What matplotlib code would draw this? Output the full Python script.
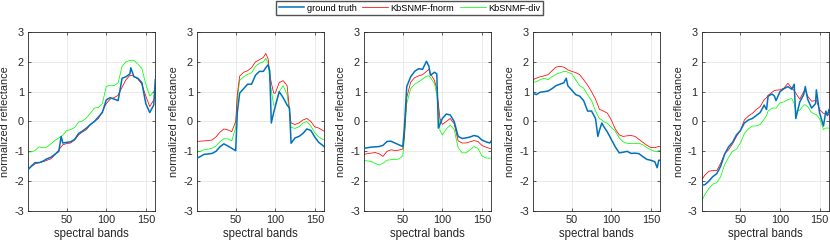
import matplotlib
matplotlib.use('Agg')
import matplotlib.pyplot as plt

plt.rcParams['font.family'] = ['Liberation Sans', 'DejaVu Sans']
plt.rcParams['axes.unicode_minus'] = False

# ---- panel 1 ----
bands1 = [1, 5, 10, 15, 20, 25, 30, 35, 40, 43, 45, 50, 55, 60, 65, 70, 75, 80, 85, 90,
          95, 100, 105, 110, 115, 120, 125, 130, 131, 135, 140, 145, 150, 155, 160, 162]
gt1 = [-1.62, -1.5, -1.38, -1.38, -1.33, -1.25, -1.2, -1.1, -1.0, -0.5, -0.72, -0.7, -0.68, -0.6,
       -0.4, -0.32, -0.22, -0.1, 0.0, 0.15, 0.3, 0.72, 0.8, 0.75, 0.7, 1.45, 1.5, 1.6, 1.8, 1.5,
       1.45, 1.3, 0.6, 0.3, 0.55, 1.4]
fn1 = [-1.62, -1.52, -1.42, -1.38, -1.35, -1.3, -1.25, -1.12, -0.95, -0.85, -0.78, -0.74, -0.72,
       -0.62, -0.45, -0.35, -0.27, -0.1, 0.0, 0.1, 0.33, 0.6, 0.75, 0.8, 0.88, 1.15, 1.4, 1.55,
       1.55, 1.52, 1.42, 1.25, 0.85, 0.5, 0.72, 0.82]
dv1 = [-1.02, -1.02, -0.97, -0.85, -0.88, -0.86, -0.75, -0.64, -0.55, -0.5, -0.46, -0.3, -0.27,
       -0.2, -0.02, 0.02, 0.12, 0.28, 0.45, 0.47, 0.6, 1.17, 1.22, 1.2, 1.3, 1.85, 2.0, 2.05,
       2.05, 2.05, 1.92, 1.78, 1.25, 0.85, 1.0, 1.08]

# ---- panel 2 ----
bands2 = [1, 5, 10, 15, 20, 25, 30, 35, 40, 45, 50, 52, 55, 60, 65, 70, 75, 80, 85, 88, 91,
          93, 95, 98, 100, 105, 110, 115, 118, 120, 125, 130, 135, 140, 145, 150, 155, 160, 162]
gt2 = [-1.23, -1.18, -1.1, -1.09, -1.07, -1.0, -0.85, -0.75, -0.82, -0.9, -0.98, 0.3, 0.95, 1.1,
       1.25, 1.25, 1.55, 1.68, 1.68, 1.8, 1.9, 1.7, -0.05, 0.3, 0.5, 1.0, 0.8, 0.55, 0.45, -0.73,
       -0.55, -0.5, -0.4, -0.25, -0.3, -0.52, -0.7, -0.8, -0.85]
fn2 = [-0.67, -0.66, -0.65, -0.64, -0.62, -0.52, -0.36, -0.25, -0.28, -0.34, 0.0, 0.9, 1.52,
       1.65, 1.7, 1.8, 2.0, 2.07, 2.15, 2.28, 2.1, 1.6, 1.3, 0.95, 0.95, 1.3, 1.37, 1.2, 0.4,
       -0.05, -0.1, -0.05, 0.05, 0.1, 0.0, -0.18, -0.22, -0.3, -0.33]
dv2 = [-1.03, -1.0, -0.95, -0.93, -0.9, -0.82, -0.68, -0.58, -0.58, -0.65, -0.2, 0.75, 1.38,
       1.5, 1.58, 1.63, 1.85, 1.95, 2.0, 2.12, 1.95, 1.4, 1.05, 0.55, 0.55, 1.0, 1.2, 0.9, 0.3,
       -0.2, -0.23, -0.18, -0.05, 0.0, -0.15, -0.38, -0.52, -0.6, -0.62]

# ---- panel 3 ----
bands3 = [1, 5, 10, 15, 20, 25, 30, 35, 40, 45, 50, 52, 55, 60, 65, 70, 75, 80, 83, 85, 90,
          93, 95, 97, 100, 105, 110, 115, 120, 125, 130, 135, 140, 145, 150, 155, 160, 162]
gt3 = [-0.9, -0.88, -0.86, -0.85, -0.84, -0.8, -0.67, -0.66, -0.72, -0.78, -0.84, -0.2, 1.17,
       1.5, 1.68, 1.77, 1.75, 2.02, 1.85, 1.55, 1.65, 1.6, -0.22, -0.1, 0.1, 0.25, 0.22, 0.0,
       -0.5, -0.57, -0.55, -0.52, -0.47, -0.5, -0.62, -0.68, -0.72, -0.65]
fn3 = [-1.1, -1.08, -1.06, -1.04, -1.08, -1.17, -1.0, -0.95, -0.97, -0.96, -0.92, -0.5, 0.8,
       1.32, 1.47, 1.53, 1.57, 1.68, 1.75, 1.6, 1.38, 1.1, 0.6, 0.1, -0.1, 0.0, 0.1, -0.08,
       -0.65, -0.72, -0.72, -0.68, -0.64, -0.67, -0.8, -0.86, -0.9, -0.9]
dv3 = [-1.31, -1.32, -1.34, -1.4, -1.46, -1.4, -1.3, -1.28, -1.27, -1.26, -1.15, -0.6, 0.6,
       1.1, 1.25, 1.33, 1.42, 1.52, 1.53, 1.47, 1.28, 0.9, 0.5, -0.3, -0.45, -0.25, -0.12,
       -0.27, -0.88, -1.05, -1.05, -0.95, -0.84, -0.9, -1.15, -1.22, -1.23, -1.22]

# ---- panel 4 ----
bands4 = [1, 5, 10, 15, 20, 25, 30, 35, 40, 43, 45, 50, 55, 60, 65, 70, 75, 80, 83, 85, 88,
          90, 95, 100, 105, 110, 115, 120, 125, 130, 135, 140, 145, 150, 155, 158, 160, 162]
gt4 = [0.95, 0.9, 0.98, 1.0, 1.02, 1.1, 1.2, 1.25, 1.3, 1.45, 1.2, 1.05, 0.9, 0.85, 0.7, 0.35,
       0.35, 0.1, -0.5, -0.3, -0.05, -0.15, -0.35, -0.6, -0.85, -1.05, -1.03, -1.0, -1.07,
       -1.06, -1.08, -1.18, -1.27, -1.3, -1.35, -1.55, -1.3, -1.3]
fn4 = [1.4, 1.45, 1.5, 1.53, 1.57, 1.7, 1.82, 1.85, 1.82, 1.77, 1.73, 1.68, 1.64, 1.57, 1.4,
       1.22, 1.0, 0.75, 0.55, 0.4, 0.38, 0.35, 0.28, 0.05, -0.25, -0.45, -0.5, -0.48, -0.47,
       -0.5, -0.6, -0.7, -0.8, -0.87, -0.88, -0.85, -0.84, -0.83]
dv4 = [1.31, 1.33, 1.4, 1.45, 1.4, 1.5, 1.58, 1.63, 1.68, 1.68, 1.65, 1.6, 1.4, 1.2, 1.12, 0.9,
       0.7, 0.35, 0.2, 0.1, 0.05, 0.0, -0.06, -0.2, -0.32, -0.55, -0.68, -0.73, -0.74, -0.74,
       -0.73, -0.78, -0.88, -0.95, -1.0, -1.0, -0.98, -0.97]

# ---- panel 5 ----
bands5 = [1, 5, 10, 15, 20, 25, 30, 35, 40, 45, 50, 55, 60, 65, 70, 75, 80, 83, 85, 90, 93,
          95, 100, 105, 110, 115, 118, 120, 125, 130, 132, 135, 140, 145, 146, 150, 155, 158,
          160, 162]
gt5 = [-2.13, -2.12, -2.0, -1.85, -1.75, -1.5, -1.1, -0.85, -0.7, -0.45, -0.3, -0.05, 0.05,
       0.1, 0.2, 0.3, 0.55, 0.4, 0.85, 0.92, 0.85, 0.7, 1.0, 1.1, 1.17, 1.08, 1.25, 0.1, 0.65,
       0.9, 1.17, 0.75, 0.45, 0.6, 1.06, 0.3, -0.15, 0.35, 0.2, 0.4]
fn5 = [-1.96, -1.8, -1.67, -1.64, -1.65, -1.4, -1.08, -0.95, -0.75, -0.5, -0.3, 0.05, 0.18,
       0.27, 0.4, 0.5, 0.73, 0.8, 0.88, 0.98, 1.04, 1.05, 1.06, 1.12, 1.28, 1.12, 1.03, 0.95,
       0.75, 1.0, 1.05, 0.85, 0.68, 0.7, 0.72, 0.4, 0.27, 0.25, 0.23, 0.22]
dv5 = [-2.67, -2.45, -2.25, -2.1, -2.05, -1.85, -1.45, -1.2, -1.0, -0.93, -0.72, -0.4, -0.25,
       -0.15, -0.15, -0.1, 0.08, 0.2, 0.35, 0.45, 0.45, 0.45, 0.62, 0.66, 0.73, 0.77, 0.6, 0.35,
       0.38, 0.55, 0.56, 0.5, 0.3, 0.23, 0.23, 0.1, -0.27, -0.22, -0.22, -0.22]

panels = [(bands1, gt1, fn1, dv1), (bands2, gt2, fn2, dv2), (bands3, gt3, fn3, dv3),
          (bands4, gt4, fn4, dv4), (bands5, gt5, fn5, dv5)]
labels = ['ground truth', 'KbSNMF-fnorm', 'KbSNMF-div']

fig = plt.figure(figsize=(8.3, 2.45), dpi=100)
lefts = [0.0337, 0.2373, 0.4386, 0.6422, 0.8454]

for i, (b, gt, fn, dv) in enumerate(panels):
    ax = fig.add_axes([lefts[i], 0.1388, 0.1534, 0.7306])
    l1, = ax.plot(b, gt, color='#0072BD', lw=1.1, zorder=3)
    l2, = ax.plot(b, fn, color='#ff0000', lw=0.55, zorder=2)
    l3, = ax.plot(b, dv, color='#00ff00', lw=0.55, zorder=1)
    ax.set_xlim(1, 162)
    ax.set_ylim(-3, 3)
    ax.set_xticks([50, 100, 150])
    ax.set_yticks([-3, -2, -1, 0, 1, 2, 3])
    ax.grid(True, color='#e6e6e6', lw=0.6)
    ax.set_axisbelow(True)
    ax.tick_params(direction='in', length=2.5, width=0.5, labelsize=7.8,
                   colors='#262626', top=True, right=True, pad=3)
    for s in ax.spines.values():
        s.set_color('#262626')
        s.set_linewidth(0.6)
    ax.set_xlabel('spectral bands', fontsize=8.3, color='#262626', labelpad=2)
    ax.set_ylabel('normalized reflectance', fontsize=7.8, color='#262626', labelpad=3)

fig.legend([l1, l2, l3], labels, loc='upper center', bbox_to_anchor=(0.4934, 1.0),
           ncol=3, fontsize=6.6, frameon=True, fancybox=False, edgecolor='#262626',
           borderpad=0.3, handlelength=2.8, columnspacing=0.6, handletextpad=0.3,
           borderaxespad=0.1)

plt.savefig('out.png', dpi=100)
plt.close()
